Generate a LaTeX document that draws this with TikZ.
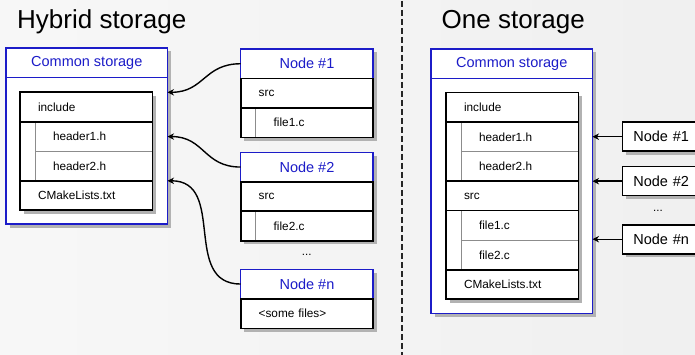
\documentclass[tikz,border=0pt]{standalone}
\usepackage{fontspec}
\setmainfont{Liberation Sans}
\usetikzlibrary{arrows.meta,positioning,calc,shadows}

\definecolor{storeblue}{HTML}{1C1CC8}

\begin{document}
\begin{tikzpicture}[x=1pt, y=-1pt,
    boxshadow/.style={
        drop shadow={shadow xshift=3.5pt, shadow yshift=-3.5pt, fill=black!30, opacity=1}
    },
    title/.style={
        anchor=base west,
        inner sep=0pt,
        font=\fontsize{26}{30}\selectfont
    },
    storebox/.style={
        draw=storeblue,
        fill=white,
        line width=1.5pt,
        boxshadow,
        minimum width=161.5pt,
        anchor=north west,
        outer sep=0pt
    },
    hdrbox/.style={
        draw=storeblue,
        fill=white,
        line width=1.5pt,
        text=storeblue,
        minimum width=132.5pt,
        minimum height=29.5pt,
        inner sep=0pt,
        anchor=north west,
        outer sep=0pt,
        font=\fontsize{14.5}{17}\selectfont
    },
    blockbox/.style={
        fill=white,
        boxshadow,
        minimum width=132.5pt,
        anchor=north west,
        outer sep=0pt
    },
    dirrow/.style={
        draw=black,
        fill=white,
        line width=1.6pt,
        text width=96.5pt,
        inner xsep=18pt,
        inner ysep=0pt,
        align=left,
        minimum height=29.5pt,
        anchor=north west,
        outer sep=0pt,
        font=\fontsize{11.8}{13}\selectfont
    },
    filerow/.style={
        dirrow,
        draw=black!45,
        line width=1pt,
        text width=81.5pt
    },
    blkline/.style={draw=black, line width=1.6pt},
    nodebox/.style={
        draw=black,
        fill=white,
        line width=1.6pt,
        boxshadow,
        text width=60pt,
        inner xsep=11pt,
        inner ysep=0pt,
        align=left,
        minimum height=29pt,
        anchor=west,
        outer sep=0pt,
        font=\fontsize{14.5}{17}\selectfont
    },
    link/.style={-{Stealth[length=6.5pt,width=6.5pt]}, line width=1.4pt, draw=black},
    sepline/.style={draw=black!85, line width=1.6pt, dash pattern=on 6pt off 3pt}
]
    % page
    \clip (0,0) rectangle (695,355);
    \shade[left color=black!3, right color=black!6] (0,0) rectangle (695,355);

    % separator
    \draw[sepline] (402,1) -- (402,355);

    %% Hybrid storage
    \node[title] (titleL) at (17,28.7) {Hybrid storage};

    % common storage
    \node[storebox, minimum height=176pt] (csL) at (6,48) {};
    \node[hdrbox, minimum width=161.5pt] (csLhdr) at (csL.north west) {Common storage};
    \node[blockbox, minimum height=118pt] (blkL) at (20,92.3) {};
    \node[filerow] (h1L) at ($(blkL.north west)+(15,29.5)$) {header1.h};
    \node[filerow] (h2L) at (h1L.south west) {header2.h};
    \node[dirrow] (incL) at (blkL.north west) {include};
    \node[dirrow] (cmkL) at (h2L.south west -| blkL.west) {CMakeLists.txt};
    \draw[blkline] (blkL.north west) rectangle (blkL.south east);

    % node 1
    \node[hdrbox, boxshadow] (n1hdr) at (240.7,49) {Node \#1};
    \node[blockbox, minimum height=59pt] (n1blk) at (n1hdr.south west) {};
    \node[filerow] (n1f) at ($(n1blk.north west)+(15,29.5)$) {file1.c};
    \node[dirrow] (n1src) at (n1blk.north west) {src};
    \draw[blkline] (n1blk.north west) rectangle (n1blk.south east);

    % node 2
    \node[hdrbox, boxshadow] (n2hdr) at (240.7,152.3) {Node \#2};
    \node[blockbox, minimum height=59pt] (n2blk) at (n2hdr.south west) {};
    \node[filerow] (n2f) at ($(n2blk.north west)+(15,29.5)$) {file2.c};
    \node[dirrow] (n2src) at (n2blk.north west) {src};
    \draw[blkline] (n2blk.north west) rectangle (n2blk.south east);

    \node[font=\fontsize{11.5}{13}\selectfont] (dotsL) at (306.7,255) {...};

    % node n
    \node[hdrbox, boxshadow] (nnhdr) at (240.7,269.3) {Node \#n};
    \node[blockbox, minimum height=29.5pt] (nnblk) at (nnhdr.south west) {};
    \node[dirrow] (nnrest) at (nnblk.north west) {<some files>};

    % links
    \draw[link] (n1hdr.west) to[out=180, in=0, looseness=1.2] (csL.east |- incL.north);
    \draw[link] (n2hdr.west) to[out=180, in=0, looseness=1.2] (csL.east |- h1L);
    \draw[link] (nnhdr.west) to[out=180, in=0, looseness=1.2] (csL.east |- cmkL.north);

    %% One storage
    \node[title] (titleR) at (441.5,28.7) {One storage};

    % common storage
    \node[storebox, minimum height=264.3pt] (csR) at (431,49) {};
    \node[hdrbox, minimum width=161.5pt] (csRhdr) at (csR.north west) {Common storage};
    \node[blockbox, minimum height=206.5pt] (blkR) at (446,92.7) {};
    \node[filerow] (h1R) at ($(blkR.north west)+(15,29.5)$) {header1.h};
    \node[filerow] (h2R) at (h1R.south west) {header2.h};
    \node[filerow] (f1R) at ($(h2R.south west)+(0,29.5)$) {file1.c};
    \node[filerow] (f2R) at (f1R.south west) {file2.c};
    \node[dirrow] (incR) at (blkR.north west) {include};
    \node[dirrow] (srcR) at (h2R.south west -| blkR.west) {src};
    \node[dirrow] (cmkR) at (f2R.south west -| blkR.west) {CMakeLists.txt};
    \draw[blkline] (blkR.north west) rectangle (blkR.south east);

    % nodes
    \node[nodebox] (nR1) at (622.3,136.7) {Node \#1};
    \node[nodebox] (nR2) at (622.3,181.2) {Node \#2};
    \node[font=\fontsize{11.5}{13}\selectfont] (dotsR) at (658,211) {...};
    \node[nodebox] (nRn) at (622.3,239.2) {Node \#n};

    \draw[link] (nR1.west) -- (nR1.west -| csR.east);
    \draw[link] (nR2.west) -- (nR2.west -| csR.east);
    \draw[link] (nRn.west) -- (nRn.west -| csR.east);
\end{tikzpicture}
\end{document}
